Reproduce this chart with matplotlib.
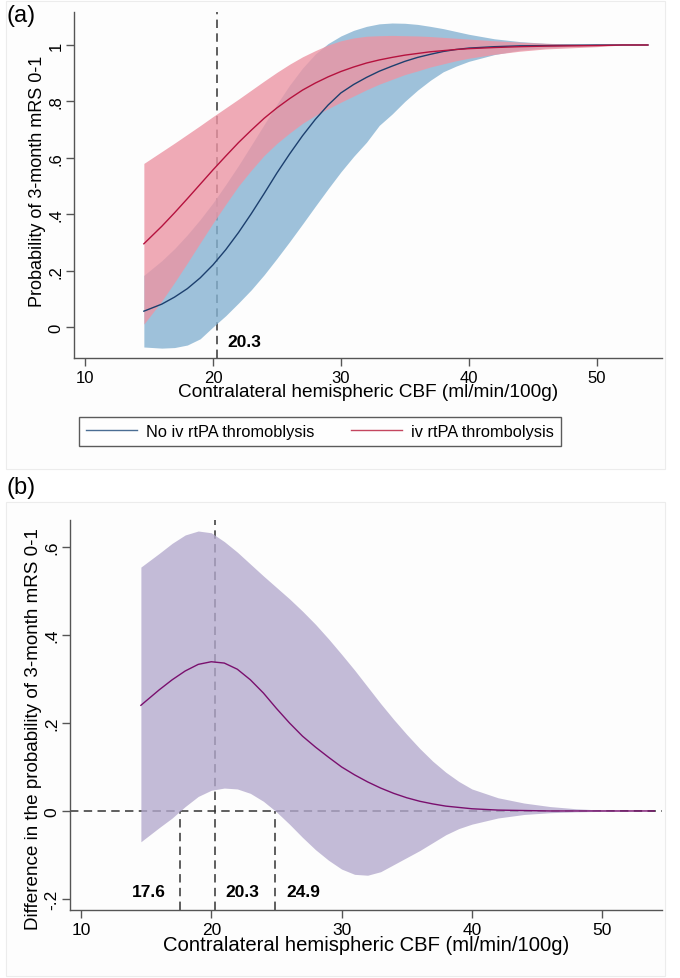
import numpy as np
import matplotlib.pyplot as plt
from matplotlib.patches import Rectangle

plt.rcParams['font.family'] = ['Liberation Sans', 'DejaVu Sans']

# CBF grid (ml/min/100g)
cbf = [14.6, 16, 17, 18, 19, 20, 21, 22, 23, 24, 25, 26, 27, 28, 29, 30, 31, 32,
       33, 34, 35, 36, 37, 38, 39, 40, 42, 44, 46, 48, 50, 52, 54]

# panel (a): no iv rtPA
no_tpa = [0.056, 0.081, 0.106, 0.136, 0.174, 0.220, 0.274, 0.335, 0.402, 0.473, 0.546,
          0.614, 0.678, 0.736, 0.787, 0.830, 0.860, 0.885, 0.907, 0.925, 0.942, 0.956,
          0.967, 0.977, 0.984, 0.989, 0.994, 0.997, 0.998, 0.999, 1.0, 1.0, 1.0]
no_tpa_hi = [0.183, 0.235, 0.278, 0.327, 0.381, 0.440, 0.505, 0.573, 0.645, 0.718, 0.790,
             0.858, 0.918, 0.968, 1.005, 1.032, 1.052, 1.066, 1.075, 1.078, 1.077, 1.073,
             1.066, 1.058, 1.048, 1.038, 1.022, 1.012, 1.006, 1.003, 1.001, 1.0, 1.0]
no_tpa_lo = [-0.071, -0.075, -0.073, -0.064, -0.042, 0.0, 0.040, 0.085, 0.132, 0.185,
             0.243, 0.303, 0.365, 0.428, 0.490, 0.550, 0.605, 0.655, 0.715, 0.755, 0.800,
             0.840, 0.875, 0.905, 0.925, 0.942, 0.966, 0.982, 0.990, 0.995, 0.998, 1.0, 1.0]

# panel (a): iv rtPA
tpa = [0.295, 0.357, 0.405, 0.455, 0.506, 0.557, 0.606, 0.654, 0.698, 0.740, 0.777,
       0.810, 0.840, 0.865, 0.887, 0.906, 0.922, 0.936, 0.947, 0.956, 0.964, 0.970,
       0.976, 0.980, 0.984, 0.987, 0.991, 0.994, 0.996, 0.997, 0.998, 1.0, 1.0]
tpa_hi = [0.580, 0.622, 0.652, 0.683, 0.714, 0.746, 0.777, 0.808, 0.840, 0.872, 0.903,
          0.932, 0.958, 0.980, 1.000, 1.015, 1.025, 1.031, 1.033, 1.034, 1.033, 1.032,
          1.030, 1.027, 1.024, 1.021, 1.015, 1.010, 1.006, 1.004, 1.002, 1.0, 1.0]
tpa_lo = [0.010, 0.092, 0.158, 0.227, 0.298, 0.368, 0.435, 0.500, 0.556, 0.608, 0.651,
          0.688, 0.722, 0.750, 0.774, 0.797, 0.819, 0.841, 0.861, 0.878, 0.895, 0.908,
          0.922, 0.933, 0.944, 0.953, 0.967, 0.978, 0.986, 0.990, 0.994, 1.0, 1.0]

# panel (b): difference
diff = [0.240, 0.275, 0.298, 0.318, 0.333, 0.339, 0.336, 0.322, 0.298, 0.268, 0.233,
        0.200, 0.170, 0.145, 0.122, 0.100, 0.082, 0.066, 0.052, 0.040, 0.030, 0.022,
        0.016, 0.011, 0.008, 0.005, 0.002, 0.001, 0.0, 0.0, 0.0, 0.0, 0.0]
diff_hi = [0.554, 0.585, 0.608, 0.627, 0.636, 0.632, 0.612, 0.588, 0.561, 0.534, 0.508,
           0.482, 0.454, 0.424, 0.391, 0.356, 0.320, 0.282, 0.244, 0.208, 0.174, 0.142,
           0.113, 0.088, 0.067, 0.050, 0.030, 0.018, 0.010, 0.005, 0.002, 0.001, 0.0]
diff_lo = [-0.070, -0.038, -0.016, 0.010, 0.033, 0.047, 0.052, 0.050, 0.040, 0.022,
           -0.002, -0.030, -0.060, -0.088, -0.112, -0.132, -0.144, -0.146, -0.138,
           -0.122, -0.106, -0.090, -0.072, -0.054, -0.040, -0.030, -0.016, -0.008,
           -0.004, -0.002, -0.001, 0.0, 0.0]

cut_a = 20.3
cuts_b = [17.6, 20.3, 24.9]

x_ticks = [10, 20, 30, 40, 50]
ya_ticks = [0, 0.2, 0.4, 0.6, 0.8, 1.0]
ya_labels = ['0', '.2', '.4', '.6', '.8', '1']
yb_ticks = [-0.2, 0, 0.2, 0.4, 0.6]
yb_labels = ['-.2', '0', '.2', '.4', '.6']
xlabel = 'Contralateral hemispheric CBF (ml/min/100g)'

W, H = 680, 979
fig = plt.figure(figsize=(W / 100, H / 100), dpi=100, facecolor='white')


def px_axes(l, t, r, b):
    return fig.add_axes([l / W, 1 - b / H, (r - l) / W, (b - t) / H])


# faint graph-region boxes
for (l, t, r, b) in [(6, 2, 665, 470), (6, 503, 665, 977)]:
    fig.patches.append(Rectangle((l / W, 1 - b / H), (r - l) / W, (b - t) / H,
                                 transform=fig.transFigure, facecolor='#fdfdfd',
                                 edgecolor='#ececec', lw=0.8, zorder=-5))

dash_kw = dict(color='#333333', lw=1.1, dashes=(5.5, 3.5), zorder=1)


def style(ax, tick_fs):
    for s in ['top', 'right']:
        ax.spines[s].set_visible(False)
    for s in ['left', 'bottom']:
        ax.spines[s].set_color('#555555')
        ax.spines[s].set_linewidth(1.0)
    ax.set_facecolor('none')
    ax.tick_params(axis='both', colors='#555555', length=5.5, width=1.0,
                   labelcolor='black', labelsize=tick_fs)
    ax.tick_params(axis='y', pad=2)
    ax.tick_params(axis='x', pad=3)
    ax.set_xticks(x_ticks)
    for t in ax.get_yticklabels():
        t.set_rotation(90)
        t.set_va('center')


# ---- panel (a)
ax = px_axes(74, 13, 662, 359)
ax.axvline(cut_a, **dash_kw)
ax.fill_between(cbf, no_tpa_lo, no_tpa_hi, color='#86b3d2', alpha=0.8, lw=0, zorder=2)
ax.fill_between(cbf, tpa_lo, tpa_hi, color='#ec95a4', alpha=0.8, lw=0, zorder=3)
l1, = ax.plot(cbf, no_tpa, color='#1c3f6e', lw=1.0, zorder=4)
l2, = ax.plot(cbf, tpa, color='#b5123e', lw=1.0, zorder=4)
ax.set_xlim(9.14, 55.1)
ax.set_ylim(-0.11, 1.117)
ax.set_yticks(ya_ticks)
ax.set_yticklabels(ya_labels)
style(ax, 12)
ax.set_xlabel(xlabel, fontsize=13.7, labelpad=-1)
ax.set_ylabel('Probability of 3-month mRS 0-1', fontsize=13.0, labelpad=2)
ax.yaxis.label.set_y(0.514)
ax.annotate('20.3', (cut_a, -0.053), xytext=(11, 0), textcoords='offset pixels',
            ha='left', va='center', fontsize=12.5, fontweight='bold')

leg = fig.legend([l1, l2], ['No iv rtPA thromoblysis', 'iv rtPA thrombolysis'],
                 loc='center', bbox_to_anchor=(320 / W, 1 - 432.5 / H), ncol=2,
                 fontsize=11.8, frameon=True, fancybox=False, handlelength=3.1,
                 columnspacing=2.25, borderpad=0.45, handletextpad=0.55)
leg.get_frame().set_edgecolor('#333333')
leg.get_frame().set_linewidth(1.0)
leg.legend_handles[0].set_color('#4a6d93')
leg.legend_handles[1].set_color('#c4465f')

# ---- panel (b)
bx = px_axes(70, 521, 662, 911)
bx.axhline(0, **dash_kw)
bx.axvline(cuts_b[1], **dash_kw)
for c in (cuts_b[0], cuts_b[2]):
    bx.plot([c, c], [-0.225, 0], **dash_kw)
bx.fill_between(cbf, diff_lo, diff_hi, color='#b3a9cd', alpha=0.78, lw=0, zorder=2)
bx.plot(cbf, diff, color='#7a0f6e', lw=1.0, zorder=4)
bx.set_xlim(9.16, 54.59)
bx.set_ylim(-0.225, 0.661)
bx.set_yticks(yb_ticks)
bx.set_yticklabels(yb_labels)
style(bx, 12.5)
bx.set_xlabel(xlabel, fontsize=14.6, labelpad=-1)
bx.set_ylabel('Difference in the probability of 3-month mRS 0-1', fontsize=13.6, labelpad=2)
bx.yaxis.label.set_y(0.467)
bx.annotate('17.6', (cuts_b[0], -0.182), xytext=(-14, 0), textcoords='offset pixels',
            ha='right', va='center', fontsize=12.5, fontweight='bold')
bx.annotate('20.3', (cuts_b[1], -0.182), xytext=(10, 0), textcoords='offset pixels',
            ha='left', va='center', fontsize=12.5, fontweight='bold')
bx.annotate('24.9', (cuts_b[2], -0.182), xytext=(11, 0), textcoords='offset pixels',
            ha='left', va='center', fontsize=12.5, fontweight='bold')

fig.text(7 / W, 1 - 16 / H, '(a)', fontsize=17, ha='left', va='center')
fig.text(7 / W, 1 - 488 / H, '(b)', fontsize=17, ha='left', va='center')

fig.savefig('out.png', dpi=100, facecolor='white')
